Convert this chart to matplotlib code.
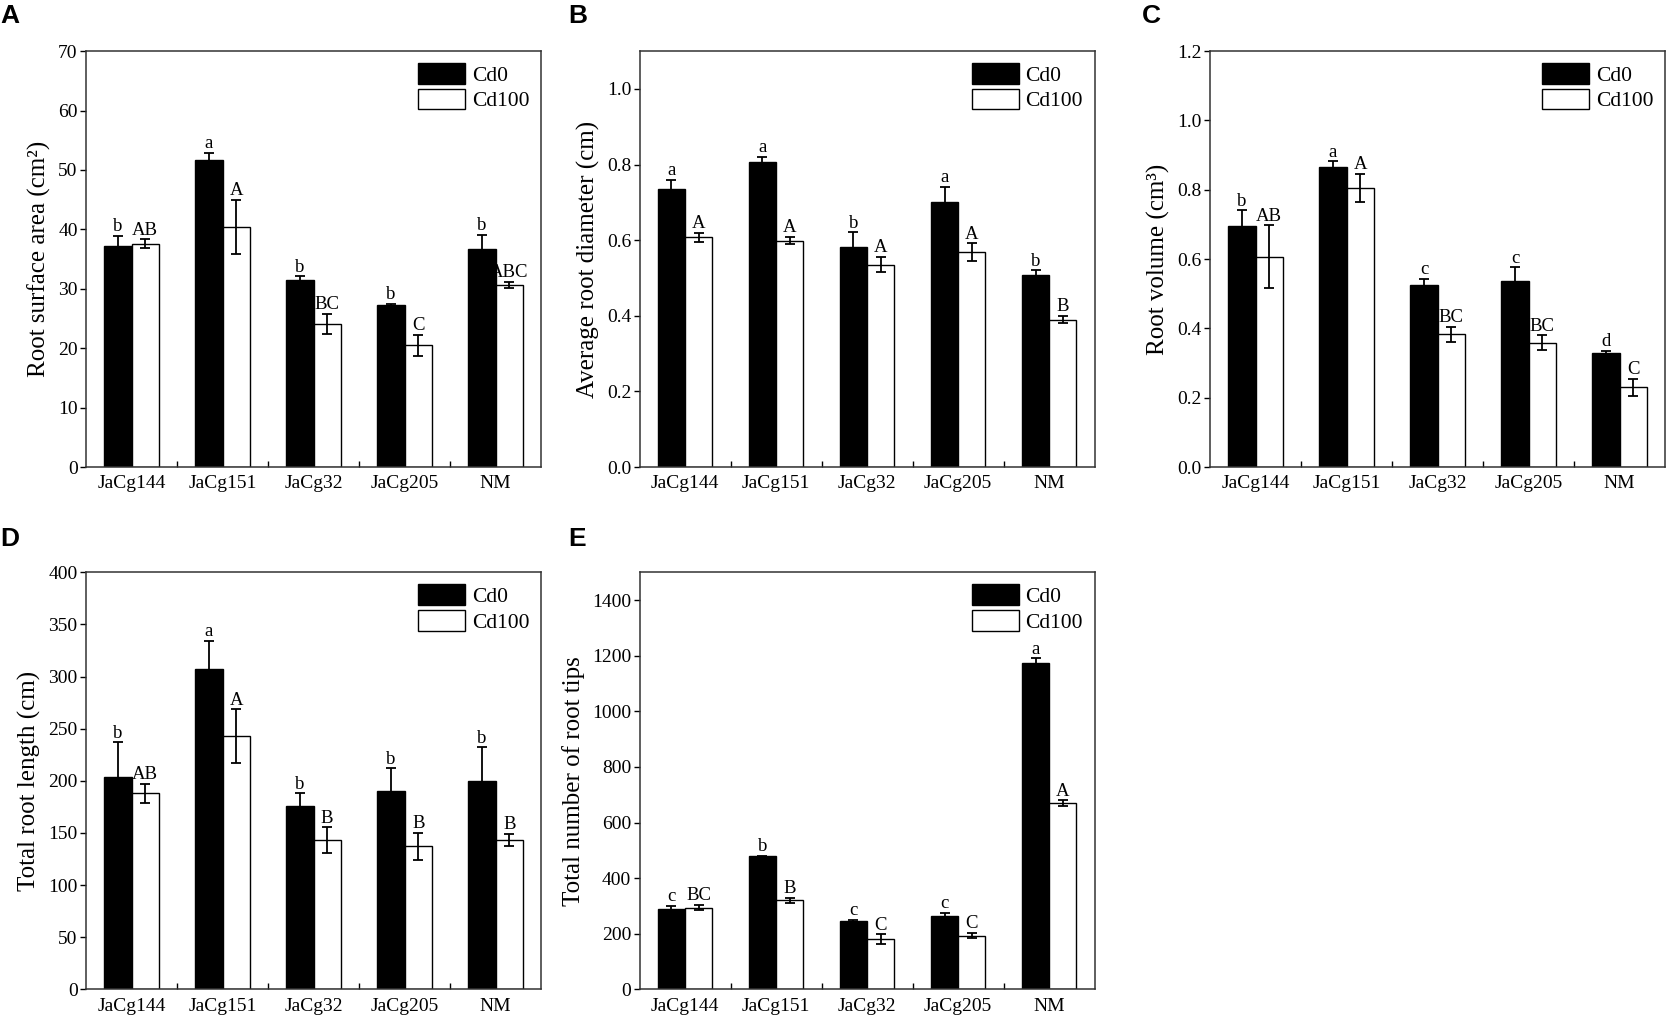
import numpy as np
import matplotlib
matplotlib.use("Agg")
import matplotlib.pyplot as plt
from matplotlib.ticker import FixedLocator

plt.rcParams['font.family'] = ['Liberation Serif', 'DejaVu Serif']

categories = ["JaCg144", "JaCg151", "JaCg32", "JaCg205", "NM"]
series_names = ["Cd0", "Cd100"]

# Panel A: root surface area
area_cd0 = [37.2, 51.7, 31.4, 27.2, 36.7]
area_cd0_err = [1.7, 1.2, 0.7, 0.3, 2.4]
area_cd100 = [37.6, 40.4, 24.1, 20.5, 30.7]
area_cd100_err = [0.7, 4.6, 1.7, 1.8, 0.5]
area_lab0 = ["b", "a", "b", "b", "b"]
area_lab100 = ["AB", "A", "BC", "C", "ABC"]

# Panel B: average root diameter
diam_cd0 = [0.735, 0.808, 0.581, 0.701, 0.507]
diam_cd0_err = [0.025, 0.013, 0.04, 0.04, 0.013]
diam_cd100 = [0.608, 0.599, 0.535, 0.568, 0.390]
diam_cd100_err = [0.012, 0.01, 0.02, 0.024, 0.01]
diam_lab0 = ["a", "a", "b", "a", "b"]
diam_lab100 = ["A", "A", "A", "A", "B"]

# Panel C: root volume
vol_cd0 = [0.696, 0.867, 0.526, 0.536, 0.329]
vol_cd0_err = [0.045, 0.015, 0.017, 0.04, 0.006]
vol_cd100 = [0.607, 0.805, 0.383, 0.359, 0.230]
vol_cd100_err = [0.09, 0.04, 0.022, 0.021, 0.024]
vol_lab0 = ["b", "a", "c", "c", "d"]
vol_lab100 = ["AB", "A", "BC", "BC", "C"]

# Panel D: total root length
len_cd0 = [204, 307, 176, 190, 200]
len_cd0_err = [33, 27, 12, 22, 32]
len_cd100 = [188, 243, 143, 137, 143.6]
len_cd100_err = [9, 25.5, 12.5, 13, 5.8]
len_lab0 = ["b", "a", "b", "b", "b"]
len_lab100 = ["AB", "A", "B", "B", "B"]

# Panel E: total number of root tips
tips_cd0 = [290, 479, 244, 264, 1173]
tips_cd0_err = [10, 2, 6, 12, 17]
tips_cd100 = [294, 320, 181, 193, 670]
tips_cd100_err = [9, 10, 17, 9, 10]
tips_lab0 = ["c", "b", "c", "c", "a"]
tips_lab100 = ["BC", "B", "C", "C", "A"]

W, H = 1670, 1022
fig = plt.figure(figsize=(W / 100, H / 100), dpi=100)

w = 0.2725
panels = [
    dict(rect=[0.0515, 0.543, w, 0.407], tag="A", tagpos=(0.0, 0.984),
         d0=area_cd0, e0=area_cd0_err, d1=area_cd100, e1=area_cd100_err,
         l0=area_lab0, l1=area_lab100, ylim=(0, 70), step=10, fmt="{:.0f}",
         ylabel="Root surface area (cm²)"),
    dict(rect=[0.383, 0.543, w, 0.407], tag="B", tagpos=(0.340, 0.984),
         d0=diam_cd0, e0=diam_cd0_err, d1=diam_cd100, e1=diam_cd100_err,
         l0=diam_lab0, l1=diam_lab100, ylim=(0, 1.1), step=0.2, fmt="{:.1f}",
         ylabel="Average root diameter (cm)"),
    dict(rect=[0.7246, 0.543, w, 0.407], tag="C", tagpos=(0.684, 0.984),
         d0=vol_cd0, e0=vol_cd0_err, d1=vol_cd100, e1=vol_cd100_err,
         l0=vol_lab0, l1=vol_lab100, ylim=(0, 1.2), step=0.2, fmt="{:.1f}",
         ylabel="Root volume (cm³)"),
    dict(rect=[0.0515, 0.032, w, 0.408], tag="D", tagpos=(0.0, 0.473),
         d0=len_cd0, e0=len_cd0_err, d1=len_cd100, e1=len_cd100_err,
         l0=len_lab0, l1=len_lab100, ylim=(0, 400), step=50, fmt="{:.0f}",
         ylabel="Total root length (cm)"),
    dict(rect=[0.383, 0.032, w, 0.408], tag="E", tagpos=(0.340, 0.473),
         d0=tips_cd0, e0=tips_cd0_err, d1=tips_cd100, e1=tips_cd100_err,
         l0=tips_lab0, l1=tips_lab100, ylim=(0, 1500), step=200, fmt="{:.0f}",
         ylabel="Total number of root tips"),
]

x = np.arange(len(categories))
bw = 0.3
for p in panels:
    ax = fig.add_axes(p["rect"])
    ax.bar(x - bw / 2, p["d0"], bw, color="black", edgecolor="black",
           linewidth=1.0, label=series_names[0], zorder=2)
    ax.bar(x + bw / 2, p["d1"], bw, color="white", edgecolor="black",
           linewidth=1.0, label=series_names[1], zorder=2)
    ax.errorbar(x - bw / 2, p["d0"], yerr=p["e0"], fmt="none", ecolor="black",
                elinewidth=1.3, capsize=3.6, capthick=1.3, zorder=1)
    ax.errorbar(x + bw / 2, p["d1"], yerr=p["e1"], fmt="none", ecolor="black",
                elinewidth=1.3, capsize=3.6, capthick=1.3, zorder=3)
    for i in range(len(categories)):
        ax.annotate(p["l0"][i], (x[i] - bw / 2, p["d0"][i] + p["e0"][i]),
                    xytext=(0, 0.5), textcoords="offset points",
                    ha="center", va="bottom", fontsize=13.5)
        ax.annotate(p["l1"][i], (x[i] + bw / 2, p["d1"][i] + p["e1"][i]),
                    xytext=(0, 0.5), textcoords="offset points",
                    ha="center", va="bottom", fontsize=13.5)
    ax.set_xlim(-0.5, len(categories) - 0.5)
    ax.set_ylim(*p["ylim"])
    ax.set_xticks(x)
    ax.set_xticklabels(categories, fontsize=14)
    ax.xaxis.set_minor_locator(FixedLocator(x[:-1] + 0.5))
    ax.tick_params(axis="x", which="major", length=0, pad=6)
    ax.tick_params(axis="x", which="minor", direction="in", length=4, width=1)
    ticks = np.arange(0, p["ylim"][1] + 1e-9, p["step"])
    ax.set_yticks(ticks)
    ax.set_yticklabels([p["fmt"].format(t) for t in ticks], fontsize=14)
    ax.tick_params(axis="y", direction="out", length=4, width=1, pad=2)
    for s in ax.spines.values():
        s.set_linewidth(1.1)
        s.set_color("#333333")
    ax.set_ylabel(p["ylabel"], fontsize=18, labelpad=5)
    ax.legend(loc="upper right", frameon=False, fontsize=15.5,
              handlelength=2.2, handleheight=1.1, labelspacing=0.15,
              handletextpad=0.3, borderaxespad=0.3, borderpad=0.25)
    fig.text(p["tagpos"][0], p["tagpos"][1], p["tag"], fontsize=19,
             fontweight="bold", family=["Liberation Sans", "DejaVu Sans"],
             ha="left", va="center")

fig.savefig("out.png", dpi=100)
